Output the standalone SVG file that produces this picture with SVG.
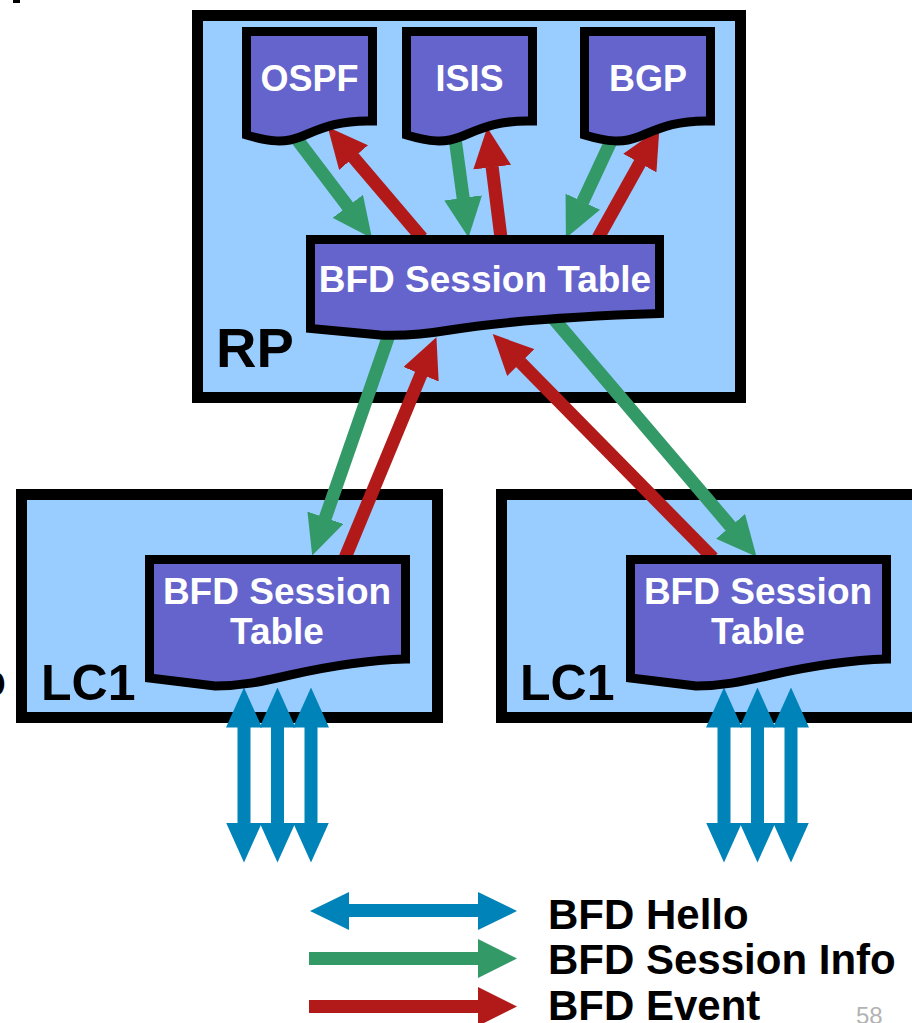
<svg xmlns="http://www.w3.org/2000/svg" width="912" height="1023" viewBox="0 0 912 1023">
<style>
.box{fill:#99CCFF;stroke:#000;stroke-width:11}
.doc{fill:#6464CC;stroke:#000;stroke-width:9;stroke-linejoin:miter}
.dt{font-family:"Liberation Sans",Arial,sans-serif;font-weight:bold;font-size:36px;fill:#fff;text-anchor:middle}
.tt{font-size:37px}
.big{font-family:"Liberation Sans",Arial,sans-serif;font-weight:bold;fill:#000}
.leg{font-family:"Liberation Sans",Arial,sans-serif;font-weight:bold;font-size:42px;fill:#000}
.g{stroke:#339966;stroke-width:13;fill:none;marker-end:url(#mg)}
.r{stroke:#B21A1A;stroke-width:13;fill:none;marker-end:url(#mr)}
.b{stroke:#0083B8;stroke-width:13;fill:none;marker-start:url(#mb);marker-end:url(#mb)}
</style>
<defs>
<marker id="mg" markerUnits="userSpaceOnUse" viewBox="0 0 40 38" markerWidth="40" markerHeight="38" refX="0.5" refY="19" orient="auto"><path d="M0,0 L40,19 L0,38 Z" fill="#339966"/></marker>
<marker id="mr" markerUnits="userSpaceOnUse" viewBox="0 0 40 38" markerWidth="40" markerHeight="38" refX="0.5" refY="19" orient="auto"><path d="M0,0 L40,19 L0,38 Z" fill="#B21A1A"/></marker>
<marker id="mb" markerUnits="userSpaceOnUse" viewBox="0 0 40 36" markerWidth="40" markerHeight="36" refX="0.5" refY="18" orient="auto-start-reverse"><path d="M0,0 L40,18 L0,36 Z" fill="#0083B8"/></marker>
<path id="topdoc" d="M246.5,31.5 H372.5 V121 C335,120 318,130 300,137 C285,143 270,142 246.5,135 Z"/>
<path id="lcdoc" d="M149.5,559.5 H405.5 V659 C370,660 330,666 290,675 C260,682 240,686 215,686 L149.5,678 Z"/>
</defs>
<rect x="13" y="0" width="7" height="3" fill="#000"/>
<text class="big" x="6" y="697" font-size="48" text-anchor="end">o</text>

<g id="RP">
<rect class="box" x="197.5" y="15.5" width="543" height="382"/>
<text class="big" x="216" y="367" font-size="56">RP</text>
</g>
<g id="LC1-left">
<rect class="box" x="21.5" y="494.5" width="416" height="223"/>
<text class="big" x="41" y="700" font-size="50">LC1</text>
</g>
<g id="LC1-right">
<rect class="box" x="501.5" y="494.5" width="440" height="223"/>
<text class="big" x="520" y="700" font-size="50">LC1</text>
</g>

<g id="connectors">
<line class="g" x1="296" y1="138" x2="348.1" y2="206.7"/>
<line class="r" x1="422" y1="238" x2="353.3" y2="157.2"/>
<line class="g" x1="455" y1="138" x2="463.2" y2="198.4"/>
<line class="r" x1="501" y1="238" x2="492.1" y2="166.7"/>
<line class="g" x1="612" y1="139" x2="582.6" y2="202.1"/>
<line class="r" x1="598" y1="238" x2="640.1" y2="162.7"/>
<line class="g" x1="389" y1="335" x2="325.2" y2="518.2"/>
<line class="r" x1="345" y1="558" x2="421.3" y2="373.8"/>
<line class="r" x1="713" y1="558" x2="520.4" y2="362.2"/>
<line class="g" x1="553" y1="318" x2="730.9" y2="526.7"/>
<line class="b" x1="244" y1="727" x2="244" y2="823"/>
<line class="b" x1="277.5" y1="727" x2="277.5" y2="823"/>
<line class="b" x1="311" y1="727" x2="311" y2="823"/>
<line class="b" x1="724" y1="727" x2="724" y2="823"/>
<line class="b" x1="757.5" y1="727" x2="757.5" y2="823"/>
<line class="b" x1="791" y1="727" x2="791" y2="823"/>
</g>

<g id="OSPF">
<use href="#topdoc" class="doc"/>
<text class="dt" x="309.5" y="91">OSPF</text>
</g>
<g id="ISIS">
<use href="#topdoc" class="doc" transform="translate(160,0)"/>
<text class="dt" x="469.5" y="91">ISIS</text>
</g>
<g id="BGP">
<use href="#topdoc" class="doc" transform="translate(338,0)"/>
<text class="dt" x="648" y="91">BGP</text>
</g>
<g id="RP-BFD-Session-Table">
<path class="doc" d="M310.5,239.5 H659.5 V313.5 C580,316 500,322 450,330 C420,335 400,336 380,335 L310.5,328.5 Z"/>
<text class="dt tt" x="485" y="292">BFD Session Table</text>
</g>
<g id="LC1-left-BFD-Session-Table">
<use href="#lcdoc" class="doc"/>
<text class="dt tt" x="277" y="604">BFD Session</text>
<text class="dt tt" x="277" y="644">Table</text>
</g>
<g id="LC1-right-BFD-Session-Table">
<use href="#lcdoc" class="doc" transform="translate(481,0)"/>
<text class="dt tt" x="758" y="604">BFD Session</text>
<text class="dt tt" x="758" y="644">Table</text>
</g>

<g id="legend">
<rect x="348" y="904" width="131" height="13" fill="#0083B8"/>
<polygon points="349,892 310,911 349,930" fill="#0083B8"/>
<polygon points="478,892 517,911 478,930" fill="#0083B8"/>
<rect x="309" y="952" width="170" height="13" fill="#339966"/>
<polygon points="478,939 517,958.5 478,978" fill="#339966"/>
<rect x="309" y="1000" width="170" height="13" fill="#B21A1A"/>
<polygon points="478,987 517,1006.5 478,1026" fill="#B21A1A"/>
<text class="leg" x="548" y="929">BFD Hello</text>
<text class="leg" x="548" y="974">BFD Session Info</text>
<text class="leg" x="548" y="1020">BFD Event</text>
</g>
<text x="856" y="1024" font-family="'Liberation Sans',Arial,sans-serif" font-size="24" fill="#b3b3b3">58</text>
</svg>
